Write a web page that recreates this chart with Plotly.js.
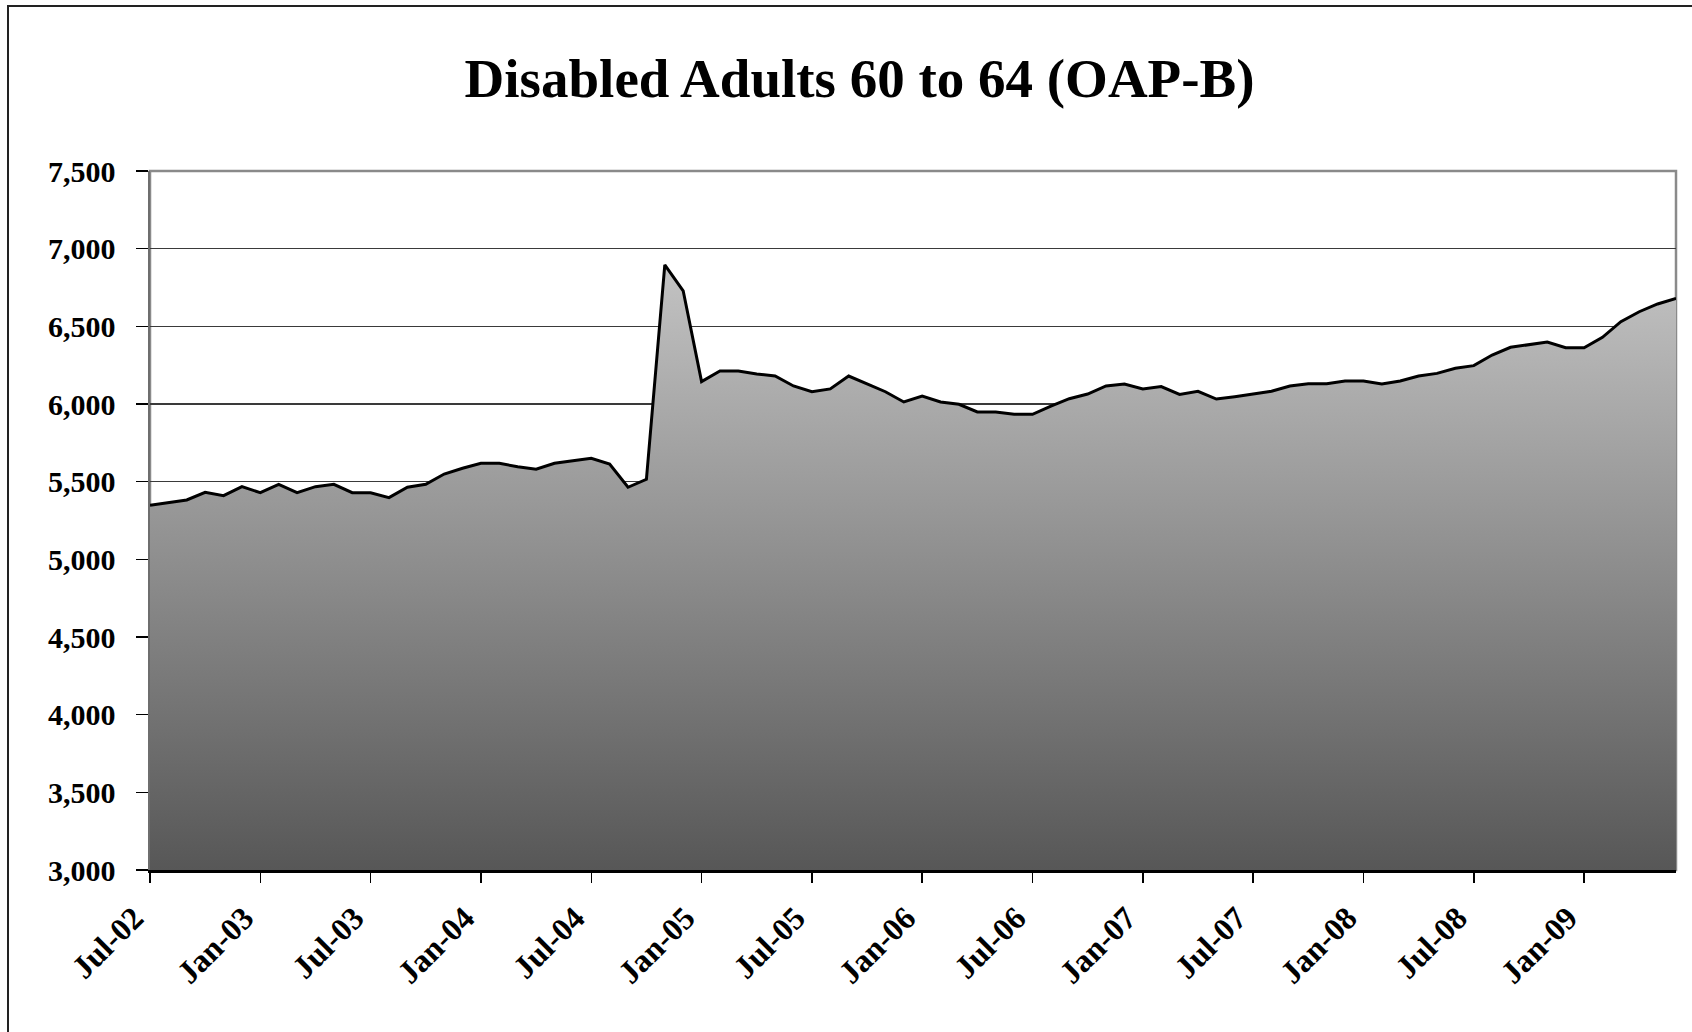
<!DOCTYPE html>
<html>
<head>
<meta charset="utf-8">
<script src="https://cdn.plot.ly/plotly-3.0.1.min.js"></script>
<style>
  html, body { margin: 0; padding: 0; background: #ffffff; }
  #wrap { position: relative; width: 1692px; height: 1032px; overflow: hidden; }
  #chart { position: absolute; left: 0; top: 0; width: 1692px; height: 1032px; }
  #frame { position: absolute; left: 7px; top: 5px; width: 1700px; height: 1100px;
           border-left: 2px solid #222; border-top: 2px solid #222; pointer-events: none; }
</style>
</head>
<body>
<div id="wrap">
  <div id="chart"></div>
  <div id="frame"></div>
</div>
<script>
// Monthly caseload, Jul-02 through Jun-09
const months = [
  "Jul-02","Aug-02","Sep-02","Oct-02","Nov-02","Dec-02",
  "Jan-03","Feb-03","Mar-03","Apr-03","May-03","Jun-03",
  "Jul-03","Aug-03","Sep-03","Oct-03","Nov-03","Dec-03",
  "Jan-04","Feb-04","Mar-04","Apr-04","May-04","Jun-04",
  "Jul-04","Aug-04","Sep-04","Oct-04","Nov-04","Dec-04",
  "Jan-05","Feb-05","Mar-05","Apr-05","May-05","Jun-05",
  "Jul-05","Aug-05","Sep-05","Oct-05","Nov-05","Dec-05",
  "Jan-06","Feb-06","Mar-06","Apr-06","May-06","Jun-06",
  "Jul-06","Aug-06","Sep-06","Oct-06","Nov-06","Dec-06",
  "Jan-07","Feb-07","Mar-07","Apr-07","May-07","Jun-07",
  "Jul-07","Aug-07","Sep-07","Oct-07","Nov-07","Dec-07",
  "Jan-08","Feb-08","Mar-08","Apr-08","May-08","Jun-08",
  "Jul-08","Aug-08","Sep-08","Oct-08","Nov-08","Dec-08",
  "Jan-09","Feb-09","Mar-09","Apr-09","May-09","Jun-09"
];

const caseload = [
  5348, 5365, 5382, 5431, 5410, 5468,
  5429, 5483, 5429, 5468, 5483, 5429,
  5429, 5397, 5464, 5483, 5549, 5586,
  5618, 5618, 5596, 5580, 5618, 5635,
  5650, 5614, 5464, 5515, 6895, 6729,
  6144, 6212, 6212, 6193, 6180, 6116,
  6079, 6097, 6180, 6129, 6079, 6013,
  6051, 6013, 5998, 5949, 5949, 5934,
  5934, 5987, 6034, 6064, 6116, 6129,
  6097, 6112, 6062, 6082, 6032, 6047,
  6064, 6082, 6116, 6131, 6131, 6148,
  6148, 6129, 6148, 6180, 6197, 6230,
  6247, 6315, 6365, 6382, 6399, 6362,
  6362, 6429, 6530, 6594, 6644, 6680
];

// Labelled ticks every six months
const tickMonths = [
  "Jul-02","Jan-03","Jul-03","Jan-04","Jul-04","Jan-05","Jul-05",
  "Jan-06","Jul-06","Jan-07","Jul-07","Jan-08","Jul-08","Jan-09"
];

const serif = "'Liberation Serif', 'Times New Roman', Times, serif";

const trace = {
  type: "scatter",
  mode: "lines",
  x: months,
  y: caseload,
  line: { color: "#000000", width: 3 },
  fill: "tozeroy",
  fillgradient: {
    type: "vertical",
    start: 3000,
    stop: 6900,
    colorscale: [[0, "#575757"], [1, "#c3c3c3"]]
  },
  hoverinfo: "x+y"
};

const layout = {
  width: 1692,
  height: 1032,
  paper_bgcolor: "#ffffff",
  plot_bgcolor: "#ffffff",
  margin: { l: 150, r: 16, t: 171, b: 162 },
  showlegend: false,
  title: {
    text: "<b>Disabled Adults 60 to 64 (OAP-B)</b>",
    font: { family: serif, size: 55, color: "#000000" },
    x: 0.465, xref: "paper", xanchor: "center",
    y: 1 - 78 / 1032, yref: "container", yanchor: "middle"
  },
  xaxis: {
    type: "category",
    categoryorder: "array",
    categoryarray: months,
    range: [0, months.length - 1],
    tickmode: "array",
    tickvals: tickMonths,
    ticktext: tickMonths.map(t => "<b>" + t + "</b>"),
    tickangle: -45,
    ticks: "outside",
    ticklen: 10,
    tickwidth: 1.5,
    tickcolor: "#000000",
    ticklabelshift: -16,
    ticklabelstandoff: 4,
    tickfont: { family: serif, size: 32, color: "#000000" },
    showgrid: false,
    showline: true,
    linecolor: "#000000",
    linewidth: 2.5,
    zeroline: false,
    fixedrange: true
  },
  yaxis: {
    range: [3000, 7500],
    tick0: 3000,
    dtick: 500,
    tickformat: ",d",
    ticks: "outside",
    ticklen: 12,
    tickwidth: 1.5,
    tickcolor: "#000000",
    ticklabelstandoff: 14,
    tickfont: { family: serif, size: 30, color: "#000000", weight: "bold" },
    showgrid: true,
    gridcolor: "#3a3a3a",
    gridwidth: 1.2,
    showline: true,
    linecolor: "#6e6e6e",
    linewidth: 2.5,
    zeroline: false,
    fixedrange: true
  },
  shapes: [
    {
      type: "rect", xref: "paper", yref: "paper",
      x0: 0, x1: 1, y0: 0, y1: 1,
      line: { color: "#8a8a8a", width: 2.5 },
      layer: "below"
    }
  ]
};

Plotly.newPlot("chart", [trace], layout, { displayModeBar: false, staticPlot: true });
</script>
</body>
</html>
